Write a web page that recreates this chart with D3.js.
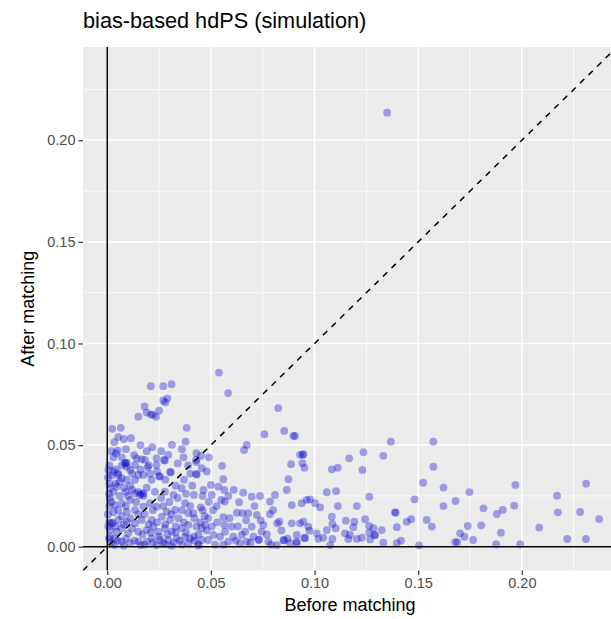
<!DOCTYPE html>
<html>
<head>
<meta charset="utf-8">
<script src="https://cdn.jsdelivr.net/npm/d3@7"></script>
<style>
  html, body { margin: 0; padding: 0; background: #ffffff; }
  svg { display: block; font-family: "Liberation Sans", Arial, Helvetica, sans-serif; }
</style>
</head>
<body>
<svg id="chart" width="611" height="619"></svg>
<script>
// Chart text
const chartTitle = "bias-based hdPS (simulation)";
const xTitle = "Before matching";
const yTitle = "After matching";

// Axis breaks (major with labels, minor unlabeled) and data limits before 5% padding
const majorBreaks = [0, 0.05, 0.10, 0.15, 0.20];
const majorLabels = ["0.00", "0.05", "0.10", "0.15", "0.20"];
const minorBreaks = [0.025, 0.075, 0.125, 0.175, 0.225];
const axisLimits = [0, 0.2342];

// Absolute standardized difference per covariate: [before matching, after matching]
const balance = [
  [0.135,0.2136],
  [0.021,0.079],[0.027,0.079],[0.031,0.080],[0.029,0.073],[0.027,0.072],[0.028,0.071],
  [0.018,0.069],[0.015,0.064],[0.019,0.066],[0.022,0.065],[0.025,0.067],[0.0235,0.064],[0.021,0.065],
  [0.0024,0.058],[0.0065,0.0585],[0.0053,0.054],[0.0034,0.0514],[0.0114,0.0534],[0.0383,0.0585],
  [0.0378,0.0517],[0.0312,0.0502],[0.0217,0.049],[0.005,0.0473],[0.0042,0.046],[0.007,0.044],
  [0.0294,0.0452],[0.0368,0.044],[0.0274,0.0427],[0.0238,0.0435],[0.0142,0.0435],[0.0166,0.043],
  [0.0094,0.0414],[0.0085,0.041],[0.0088,0.0412],[0.0094,0.0394],[0.011,0.0378],[0.0134,0.0402],
  [0.0182,0.0427],[0.0195,0.0391],[0.0238,0.0402],[0.0278,0.0424],[0.0303,0.0369],[0.0254,0.0345],
  [0.0206,0.0358],[0.015,0.0353],[0.0005,0.0378],[0.0029,0.0369],[0.0053,0.0353],[0.007,0.0337],
  [0.0052,0.0362],[0.0094,0.0329],[0.0134,0.0329],[0.0174,0.0353],[0.0214,0.0329],[0.025,0.0348],
  [0.0307,0.0365],[0.0013,0.0288],[0.0045,0.0296],[0.0359,0.0288],[0.0319,0.0255],[0.0278,0.0271],
  [0.0158,0.0255],[0.0165,0.026],[0.015,0.027],[0.0175,0.0262],[0.0174,0.025],[0.0134,0.0263],
  [0.011,0.023],[0.007,0.0214],[0.0037,0.0205],[0.0013,0.0238],[0.0053,0.0181],[0.0094,0.0172],
  [0.0134,0.0181],[0.0174,0.0197],[0.0206,0.0214],[0.0238,0.0197],[0.0287,0.0172],[0.0327,0.0181],
  [0.0375,0.0214],[0.0391,0.0165],[0.0343,0.014],[0.0303,0.0132],[0.0263,0.0148],[0.0214,0.0132],
  [0.0166,0.0132],[0.0134,0.0115],[0.0094,0.0123],[0.0053,0.0132],[0.0021,0.0115],[0.0025,0.0118],
  [0.001,0.012],[0.0013,0.0082],[0.0045,0.0074],[0.007,0.0091],[0.0101,0.0066],[0.015,0.0074],
  [0.019,0.0082],[0.0222,0.0099],[0.0246,0.0074],[0.0278,0.0091],[0.0311,0.0074],[0.0359,0.0091],
  [0.0391,0.0107],[0.0375,0.0049],[0.0335,0.0041],[0.0294,0.0033],[0.0254,0.0033],[0.0214,0.0041],
  [0.019,0.0025],[0.015,0.0025],[0.011,0.0017],[0.007,0.0025],[0.0037,0.0041],[0.0013,0.0049],
  [0.0034,0.0008],[0.0238,0.0008],[0.0278,0.0013],[0.0391,0.0017],
  [0.0003,0.034],[0.0008,0.026],[0.0003,0.016],[0.001,0.020],[0.0005,0.010],[0.0008,0.004],
  [0.003,0.027],[0.006,0.025],[0.002,0.022],[0.008,0.029],[0.004,0.031],[0.009,0.027],
  [0.011,0.030],[0.006,0.032],[0.008,0.0005],[0.016,0.0008],[0.031,0.0005],[0.036,0.001],[0.044,0.0006],
  [0.012,0.036],[0.016,0.038],[0.020,0.040],[0.024,0.037],[0.028,0.033],[0.033,0.030],[0.037,0.033],[0.040,0.036],
  [0.003,0.044],[0.001,0.040],[0.013,0.045],[0.019,0.047],[0.026,0.047],[0.034,0.041],[0.039,0.040],
  [0.019,0.029],[0.023,0.027],[0.026,0.024],[0.030,0.022],[0.034,0.024],[0.038,0.026],[0.041,0.030],
  [0.009,0.020],[0.014,0.022],[0.018,0.016],[0.022,0.018],[0.027,0.020],[0.031,0.016],[0.036,0.018],[0.040,0.020],
  [0.003,0.017],[0.007,0.015],[0.011,0.014],[0.015,0.016],[0.020,0.011],[0.024,0.012],[0.028,0.011],
  [0.033,0.010],[0.037,0.012],[0.042,0.014],
  [0.004,0.010],[0.008,0.011],[0.012,0.009],[0.017,0.006],[0.021,0.007],[0.025,0.005],[0.029,0.006],
  [0.033,0.007],[0.038,0.007],[0.042,0.003],
  [0.002,0.002],[0.005,0.003],[0.009,0.004],[0.013,0.003],[0.018,0.001],[0.022,0.002],[0.027,0.002],
  [0.032,0.002],[0.035,0.003],[0.040,0.004],
  [0.001,0.031],[0.002,0.035],[0.004,0.038],[0.007,0.040],[0.010,0.025],[0.012,0.028],
  [0.043,0.046],[0.049,0.044],[0.036,0.048],[0.016,0.050],[0.009,0.048],[0.008,0.053],[0.002,0.047],
  [0.0428,0.0358],[0.0432,0.0355],[0.048,0.037],[0.056,0.0332],[0.0874,0.0332],[0.0866,0.0279],
  [0.089,0.0205],[0.05,0.0304],[0.0536,0.0296],[0.0418,0.0255],[0.0464,0.0279],[0.0504,0.0255],
  [0.0565,0.0279],[0.0584,0.025],[0.0567,0.0222],[0.0656,0.0266],[0.0697,0.0246],[0.0737,0.025],
  [0.0809,0.0255],[0.0785,0.0222],[0.0636,0.0219],[0.0528,0.02],[0.0451,0.0194],[0.0415,0.0165],
  [0.0625,0.0167],[0.0653,0.0165],[0.068,0.0165],[0.0721,0.0156],[0.0785,0.0161],[0.082,0.0115],
  [0.083,0.0123],[0.089,0.0115],[0.093,0.0115],[0.056,0.0145],[0.0565,0.0107],[0.06,0.0099],
  [0.0487,0.014],[0.0472,0.0107],[0.0456,0.0091],[0.0504,0.0099],[0.0456,0.0033],[0.0487,0.0033],
  [0.0512,0.0058],[0.0544,0.0049],[0.0568,0.0074],[0.0608,0.0049],[0.0649,0.0058],[0.0665,0.0074],
  [0.0697,0.0099],[0.0705,0.0049],[0.0745,0.0074],[0.0753,0.0107],[0.0729,0.0033],[0.0733,0.0035],
  [0.0777,0.0025],[0.0818,0.0008],[0.085,0.0033],[0.0853,0.0031],[0.0882,0.0017],[0.0914,0.0025],
  [0.064,0.0017],[0.0673,0.0025],[0.0584,0.0025],[0.0439,0.0013],[0.0418,0.0049],
  [0.045,0.012],[0.048,0.008],[0.044,0.006],[0.047,0.015],[0.043,0.010],[0.049,0.022],[0.046,0.018],
  [0.046,0.025],[0.051,0.018],[0.053,0.012],[0.055,0.023],[0.059,0.014],[0.061,0.028],[0.063,0.010],
  [0.062,0.003],[0.067,0.013],[0.071,0.020],[0.074,0.013],[0.077,0.006],[0.080,0.018],[0.084,0.008],
  [0.087,0.004],[0.052,0.001],[0.056,0.001],[0.069,0.002],[0.079,0.001],
  [0.0539,0.0857],[0.0583,0.0756],[0.0825,0.0682],[0.0854,0.057],[0.0898,0.0545],[0.0758,0.0554],
  [0.0673,0.0501],[0.066,0.0476],[0.0452,0.0447],[0.0428,0.0427],[0.0456,0.0386],[0.043,0.0416],
  [0.0554,0.0398],[0.0887,0.0406],[0.093,0.0452],
  [0.0906,0.0545],[0.0943,0.0452],[0.0946,0.0455],[0.0941,0.0411],[0.0951,0.0389],[0.1083,0.0381],
  [0.1112,0.0389],[0.1167,0.0435],[0.1236,0.0465],[0.1231,0.0378],[0.1332,0.0447],[0.1368,0.0517],
  [0.1573,0.0517],[0.1573,0.0394],[0.1524,0.0315],[0.1622,0.0291],[0.1622,0.020],[0.1482,0.0233],
  [0.1059,0.0268],[0.1104,0.0274],[0.1264,0.0246],[0.0938,0.0214],[0.0962,0.023],[0.0978,0.0233],
  [0.1002,0.0214],[0.1027,0.0194],[0.1112,0.020],[0.1204,0.020],[0.1388,0.0169],[0.1391,0.0167],
  [0.1466,0.0135],[0.1445,0.0123],[0.1541,0.0132],[0.1566,0.0099],[0.0946,0.0123],[0.097,0.0099],
  [0.0975,0.0079],[0.1011,0.0066],[0.1083,0.0148],[0.1086,0.0112],[0.1102,0.0091],[0.1059,0.0082],
  [0.1151,0.0128],[0.1192,0.0123],[0.1187,0.0096],[0.1244,0.0135],[0.1263,0.0102],[0.1284,0.0091],
  [0.1324,0.0082],[0.1397,0.0096],[0.1147,0.0066],[0.1171,0.0058],[0.1289,0.0058],[0.1292,0.0056],
  [0.1263,0.0069],[0.1228,0.0044],[0.1204,0.0038],[0.1163,0.0038],[0.1086,0.0038],[0.1042,0.0044],
  [0.1018,0.0039],[0.0951,0.0044],[0.0954,0.0042],[0.0914,0.0058],[0.0914,0.0017],[0.1075,0.0008],
  [0.1268,0.0036],[0.1332,0.002],[0.1397,0.0017],[0.1417,0.003],[0.1504,0.0007],
  [0.1747,0.0269],[0.1969,0.0304],[0.231,0.031],[0.217,0.0251],[0.168,0.0225],[0.1815,0.0189],
  [0.1908,0.0181],[0.1879,0.0161],[0.1963,0.0202],[0.2174,0.0169],[0.2281,0.0171],[0.2373,0.0136],
  [0.1739,0.0102],[0.1804,0.0105],[0.2084,0.0094],[0.1899,0.0069],[0.1702,0.0066],[0.1723,0.0049],
  [0.1765,0.0033],[0.1678,0.0023],[0.1689,0.0022],[0.1876,0.0012],[0.1992,0.0012],[0.2219,0.0038],
  [0.2309,0.0038]
];

// Layout
const panel = { left: 83, right: 617, top: 47, bottom: 570.5 };
const pad = (axisLimits[1] - axisLimits[0]) * 0.05;
const domain = [axisLimits[0] - pad, axisLimits[1] + pad];

const svg = d3.select("#chart");

const x = d3.scaleLinear().domain(domain).range([panel.left, panel.right]);
const y = d3.scaleLinear().domain(domain).range([panel.bottom, panel.top]);

const defs = svg.append("defs");
defs.append("clipPath").attr("id", "panel-clip")
  .append("rect")
  .attr("x", panel.left).attr("y", panel.top)
  .attr("width", panel.right - panel.left).attr("height", panel.bottom - panel.top);

// Panel background
svg.append("rect")
  .attr("x", panel.left).attr("y", panel.top)
  .attr("width", panel.right - panel.left).attr("height", panel.bottom - panel.top)
  .attr("fill", "#EBEBEB");

const grid = svg.append("g").attr("clip-path", "url(#panel-clip)");

// Minor grid
grid.selectAll("line.vminor").data(minorBreaks).join("line")
  .attr("x1", d => x(d)).attr("x2", d => x(d))
  .attr("y1", panel.top).attr("y2", panel.bottom)
  .attr("stroke", "#ffffff").attr("stroke-width", 0.75);
grid.selectAll("line.hminor").data(minorBreaks).join("line")
  .attr("y1", d => y(d)).attr("y2", d => y(d))
  .attr("x1", panel.left).attr("x2", panel.right)
  .attr("stroke", "#ffffff").attr("stroke-width", 0.75);

// Major grid
grid.selectAll("line.vmajor").data(majorBreaks).join("line")
  .attr("x1", d => x(d)).attr("x2", d => x(d))
  .attr("y1", panel.top).attr("y2", panel.bottom)
  .attr("stroke", "#ffffff").attr("stroke-width", 1.5);
grid.selectAll("line.hmajor").data(majorBreaks).join("line")
  .attr("y1", d => y(d)).attr("y2", d => y(d))
  .attr("x1", panel.left).attr("x2", panel.right)
  .attr("stroke", "#ffffff").attr("stroke-width", 1.5);

const marks = svg.append("g").attr("clip-path", "url(#panel-clip)");

// Points
marks.selectAll("circle").data(balance).join("circle")
  .attr("cx", d => x(d[0]))
  .attr("cy", d => y(d[1]))
  .attr("r", 3.9)
  .attr("fill", "#0000CD")
  .attr("fill-opacity", 0.34);

// Reference lines at zero
marks.append("line")
  .attr("x1", x(0)).attr("x2", x(0))
  .attr("y1", panel.top).attr("y2", panel.bottom)
  .attr("stroke", "#000000").attr("stroke-width", 1.5);
marks.append("line")
  .attr("x1", panel.left).attr("x2", panel.right)
  .attr("y1", y(0)).attr("y2", y(0))
  .attr("stroke", "#000000").attr("stroke-width", 1.5);

// Identity line y = x
marks.append("line")
  .attr("x1", x(domain[0])).attr("y1", y(domain[0]))
  .attr("x2", x(domain[1])).attr("y2", y(domain[1]))
  .attr("stroke", "#000000").attr("stroke-width", 1.5)
  .attr("stroke-dasharray", "6,6");

// Axes
const xAxis = d3.axisBottom(x).tickValues(majorBreaks)
  .tickFormat((d, i) => majorLabels[i]).tickSize(4.5).tickPadding(3);
const yAxis = d3.axisLeft(y).tickValues(majorBreaks)
  .tickFormat((d, i) => majorLabels[i]).tickSize(4.5).tickPadding(3);

const gx = svg.append("g").attr("transform", `translate(0,${panel.bottom})`).call(xAxis);
const gy = svg.append("g").attr("transform", `translate(${panel.left},0)`).call(yAxis);

[gx, gy].forEach(g => {
  g.select(".domain").remove();
  g.selectAll(".tick line").attr("stroke", "#333333").attr("stroke-width", 1.2);
  g.selectAll(".tick text")
    .attr("fill", "#4D4D4D")
    .style("font-size", "14.5px")
    .style("font-family", "'Liberation Sans', Arial, Helvetica, sans-serif");
});

// Titles
svg.append("text")
  .attr("x", panel.left).attr("y", 27.5)
  .attr("fill", "#000000")
  .style("font-size", "21.7px")
  .text(chartTitle);

svg.append("text")
  .attr("x", (panel.left + panel.right) / 2).attr("y", 611)
  .attr("text-anchor", "middle")
  .attr("fill", "#000000")
  .style("font-size", "18px")
  .text(xTitle);

svg.append("text")
  .attr("transform", `translate(33.5,${(panel.top + panel.bottom) / 2}) rotate(-90)`)
  .attr("text-anchor", "middle")
  .attr("fill", "#000000")
  .style("font-size", "18px")
  .text(yTitle);
</script>
</body>
</html>
